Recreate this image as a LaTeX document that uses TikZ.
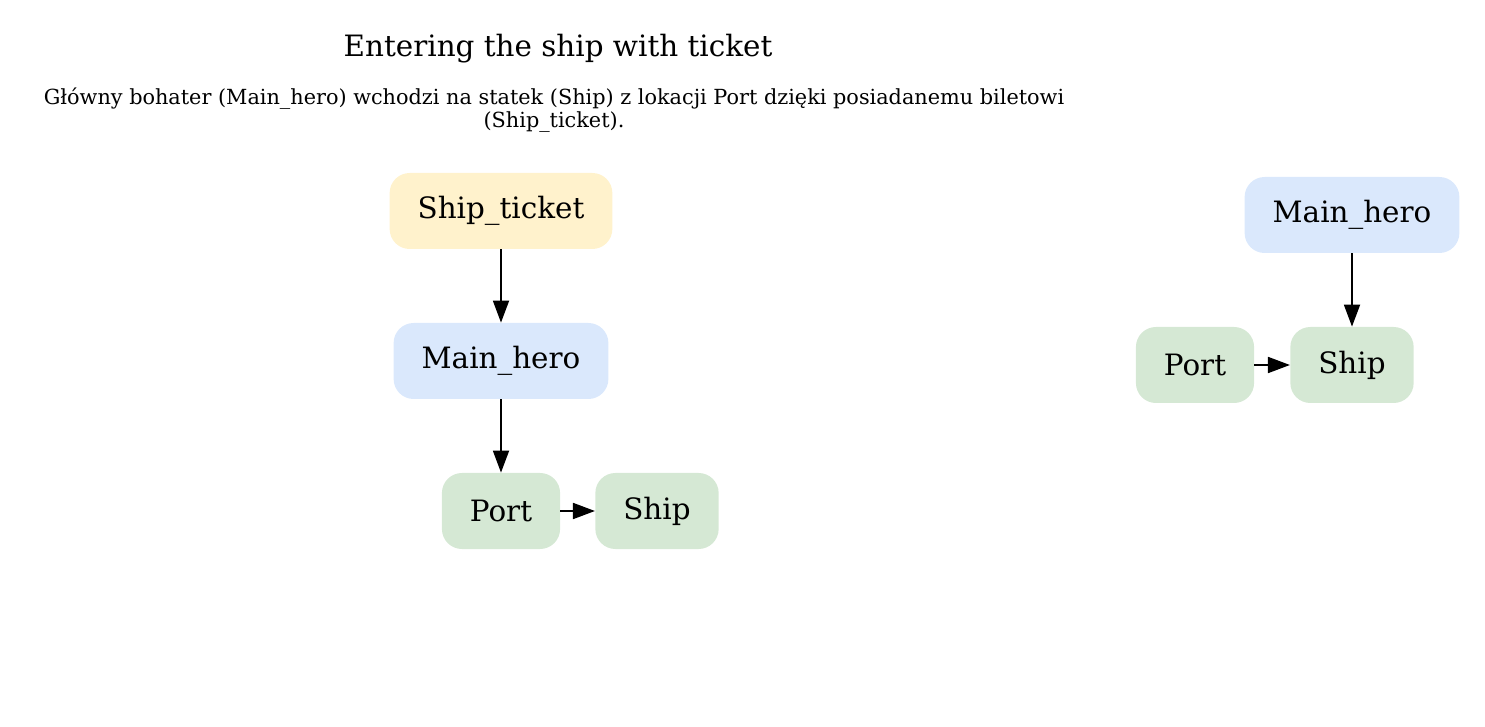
\documentclass[tikz,border=0pt]{standalone}
\usepackage{fontspec}
\setmainfont{DejaVu Serif}
\usetikzlibrary{arrows.meta}
\definecolor{itemColor}{HTML}{FFF2CC}
\definecolor{heroColor}{HTML}{DAE8FC}
\definecolor{placeColor}{HTML}{D5E8D4}

\begin{document}
\begin{tikzpicture}[x=0.5pt,y=-0.5pt]

            \tikzstyle{box} = [rounded corners=10pt, inner xsep=14pt, inner ysep=0pt,
                               minimum height=38pt, font=\fontsize{14.7}{17}\selectfont];
            \tikzstyle{itemBox} = [box, fill=itemColor];
            \tikzstyle{heroBox} = [box, fill=heroColor];
            \tikzstyle{placeBox} = [box, fill=placeColor];
            \tikzstyle{link} = [line width=0.9pt, -{Triangle[length=11pt,width=8pt]}];

            \useasboundingbox (0,0) rectangle (1485,727);

            \node[anchor=base, font=\fontsize{14.7}{17}\selectfont] (title) at (558,57)
                {Entering the ship with ticket};
            \node[align=center, inner sep=0pt, font=\fontsize{10.4}{9}\selectfont] (desc) at (554,110)
                {Główny bohater (Main\_hero) wchodzi na statek (Ship) z lokacji Port dzięki posiadanemu biletowi\\(Ship\_ticket).};

            % before
            \node[itemBox]  (ticketA) at (501,211) {Ship\_ticket};
            \node[heroBox]  (heroA)   at (501,361) {Main\_hero};
            \node[placeBox] (portA)   at (501,511) {Port};
            \node[placeBox] (shipA)   at (657,511) {Ship};

            \draw[link] (ticketA) -- (heroA);
            \draw[link] (heroA) -- (portA);
            \draw[link] (portA) -- (shipA);

            % after
            \node[heroBox]  (heroB) at (1352,215) {Main\_hero};
            \node[placeBox] (portB) at (1195,365) {Port};
            \node[placeBox] (shipB) at (1352,365) {Ship};

            \draw[link] (heroB) -- (shipB);
            \draw[link] (portB) -- (shipB);
\end{tikzpicture}
\end{document}
